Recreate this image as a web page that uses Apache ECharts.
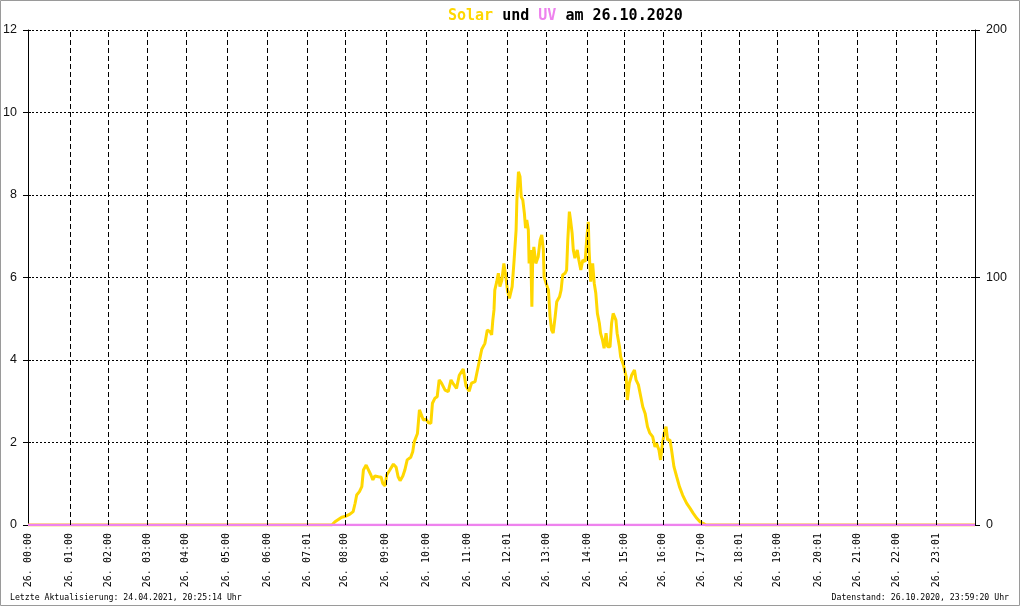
<!DOCTYPE html>
<html>
<head>
<meta charset="utf-8">
<script src="https://cdn.jsdelivr.net/npm/echarts@6/dist/echarts.min.js"></script>
<style>
html,body{margin:0;padding:0;background:#fff;}
#c{width:1020px;height:606px;}
</style>
</head>
<body>
<div id="c"></div>
<script>
// x positions (hours of day) of the labelled sample ticks and their labels
const tickPos = [0,1.06,2.03,3.02,4.00,5.04,6.06,7.07,8.03,9.07,10.09,11.13,12.14,13.13,14.17,15.11,16.09,17.06,18.02,18.98,20.02,21.01,22.00,23.01];
const tickLabels = ['26. 00:00','26. 01:00','26. 02:00','26. 03:00','26. 04:00','26. 05:00','26. 06:00','26. 07:01','26. 08:00','26. 09:00','26. 10:00','26. 11:00','26. 12:01','26. 13:00','26. 14:00','26. 15:00','26. 16:00','26. 17:00','26. 18:01','26. 19:00','26. 20:01','26. 21:00','26. 22:00','26. 23:01'];

// Solar radiation (W/m², right axis)
const solarHours = [0,7.70,7.78,7.82,7.95,8.03,8.16,8.24,8.29,8.33,8.40,8.46,8.50,8.57,8.62,8.69,8.74,8.79,8.88,8.95,8.99,9.05,9.09,9.17,9.26,9.33,9.38,9.43,9.50,9.55,9.61,9.70,9.75,9.79,9.87,9.92,9.96,10.02,10.09,10.15,10.21,10.25,10.31,10.37,10.42,10.48,10.57,10.65,10.72,10.78,10.86,10.93,11.03,11.10,11.18,11.24,11.33,11.50,11.58,11.64,11.71,11.75,11.78,11.81,11.83,11.88,11.92,11.96,12.01,12.06,12.11,12.15,12.20,12.23,12.27,12.32,12.37,12.39,12.43,12.47,12.50,12.54,12.58,12.61,12.64,12.68,12.70,12.74,12.77,12.79,12.82,12.87,12.93,12.98,13.02,13.06,13.08,13.13,13.19,13.23,13.27,13.31,13.36,13.40,13.47,13.51,13.55,13.61,13.65,13.68,13.72,13.75,13.79,13.82,13.86,13.92,13.96,14.01,14.06,14.12,14.16,14.20,14.22,14.26,14.31,14.35,14.39,14.43,14.48,14.51,14.56,14.60,14.65,14.69,14.75,14.79,14.83,14.90,14.93,14.99,15.02,15.09,15.16,15.19,15.24,15.30,15.37,15.41,15.47,15.53,15.58,15.64,15.70,15.76,15.83,15.89,15.93,15.99,16.03,16.08,16.13,16.17,16.21,16.27,16.31,16.37,16.44,16.51,16.59,16.69,16.78,16.86,16.95,17.03,17.11,17.18,24];
const solarValues = [0,0,1.3,2.0,3.1,3.4,4.4,5.4,8.8,12.1,13.5,15.5,22.2,24.2,23.6,20.2,18.2,19.8,19.5,19.3,16.8,15.8,20.2,22.2,24.6,23.3,19.5,17.9,19.8,22.2,26.3,27.4,29.6,33.7,37.0,46.5,46.7,42.4,42.7,41.3,41.1,49.2,51.2,51.8,58.6,57.3,54.5,53.9,58.6,57.0,55.2,60.5,63.0,56.2,54.0,57.3,57.9,71.0,73.4,78.8,78.1,76.8,82.8,86.9,94.9,98.3,101.7,96.3,99.0,105.7,100.3,94.9,91.6,90.9,96.3,107.1,119.2,131.3,142.7,140.7,132.6,131.3,125.9,119.9,123.2,119.2,105.7,111.1,88.2,107.1,112.4,105.7,108.4,115.2,117.2,111.1,100.3,97.7,94.9,84.2,78.8,77.5,84.2,90.2,92.2,94.9,101.0,101.7,103.0,115.2,126.6,123.2,117.9,111.1,107.8,111.1,107.1,103.0,107.1,106.4,115.8,122.5,111.1,98.3,105.7,97.7,93.6,85.5,81.5,77.5,74.7,71.4,77.5,72.0,72.0,81.5,85.5,82.8,77.5,72.0,68.0,64.6,59.9,50.5,57.3,60.6,62.6,58.6,56.6,51.8,47.8,45.1,39.7,37.1,35.7,31.6,33.0,30.3,26.3,33.0,37.7,39.7,34.3,34.3,30.3,23.6,19.5,15.5,12.1,8.8,6.7,4.7,2.7,1.3,0.7,0,0];

// UV index (left axis)
const uvHours = [0,24];
const uvValues = [0,0];

const mono = 'DejaVu Sans Mono';
const sans = 'Liberation Sans';
const chart = echarts.init(document.getElementById('c'), null, {renderer:'canvas'});
chart.setOption({
  animation:false,
  backgroundColor:'#ffffff',
  title:{
    left:443, top:4,
    text:'{s|Solar} {n|und} {u|UV} {n|am 26.10.2020}',
    textStyle:{
      fontFamily:mono, fontSize:15, fontWeight:'bold',
      rich:{
        s:{color:'#FFD700',fontFamily:mono,fontSize:15,fontWeight:'bold'},
        u:{color:'#EE82EE',fontFamily:mono,fontSize:15,fontWeight:'bold'},
        n:{color:'#000000',fontFamily:mono,fontSize:15,fontWeight:'bold'}
      }
    }
  },
  grid:{left:28,right:45,top:30,bottom:81,containLabel:false},
  xAxis:{
    type:'value', min:0, max:24,
    axisLine:{show:true,lineStyle:{color:'#000',width:1}},
    axisTick:{show:false},
    splitLine:{show:false},
    axisLabel:{
      customValues:tickPos,
      rotate:90, margin:8,
      fontFamily:mono, fontSize:10, color:'#000',
      formatter:function(v){
        for(let i=0;i<tickPos.length;i++){ if(Math.abs(tickPos[i]-v)<1e-6) return tickLabels[i]; }
        return '';
      }
    }
  },
  yAxis:[
    {
      type:'value', min:0, max:12, interval:2, position:'left',
      axisLine:{show:true,lineStyle:{color:'#000',width:1}},
      axisTick:{show:true,length:5,lineStyle:{color:'#000'}},
      axisLabel:{margin:11,fontFamily:sans,fontSize:12.5,color:'#111'},
      splitLine:{show:true,lineStyle:{color:'#000',width:1,type:[2,2]}}
    },
    {
      type:'value', min:0, max:200, interval:100, position:'right',
      axisLine:{show:true,lineStyle:{color:'#000',width:1}},
      axisTick:{show:true,length:5,lineStyle:{color:'#000'}},
      axisLabel:{margin:11,fontFamily:sans,fontSize:12.5,color:'#111'},
      splitLine:{show:false}
    },
    {
      type:'value', min:0, max:12, interval:2, position:'left',
      axisLine:{show:false}, axisLabel:{show:false}, splitLine:{show:false},
      axisTick:{show:true,inside:true,length:3,lineStyle:{color:'#000'}}
    },
    {
      type:'value', min:0, max:200, interval:100, position:'right',
      axisLine:{show:false}, axisLabel:{show:false}, splitLine:{show:false},
      axisTick:{show:true,inside:true,length:4,lineStyle:{color:'#000'}}
    }
  ],
  series:[
    {
      name:'grid', type:'line', yAxisIndex:0, data:[[0,0]], showSymbol:false, silent:true,
      lineStyle:{opacity:0},
      markLine:{
        silent:true, symbol:['none','none'], label:{show:false},
        lineStyle:{color:'#000',width:1,type:[5,3]},
        data:tickPos.slice(1).map(function(p){return {xAxis:p};})
      }
    },
    {
      name:'Solar', type:'line', yAxisIndex:1, showSymbol:false, smooth:false,
      lineStyle:{color:'#FFD700',width:3}, itemStyle:{color:'#FFD700'},
      data:solarHours.map(function(h,i){return [h,solarValues[i]];})
    },
    {
      name:'UV', type:'line', yAxisIndex:0, showSymbol:false,
      lineStyle:{color:'#EE82EE',width:2.5}, itemStyle:{color:'#EE82EE'},
      data:uvHours.map(function(h,i){return [h,uvValues[i]];})
    }
  ],
  graphic:[
    {type:'rect',shape:{x:0.5,y:0.5,width:1019,height:605},style:{fill:'none',stroke:'#9a9a9a',lineWidth:1},silent:true},
    {type:'text',left:10,top:594,style:{text:'Letzte Aktualisierung: 24.04.2021, 20:25:14 Uhr',fontFamily:mono,fontSize:8.2,fill:'#000'}},
    {type:'text',right:11,top:594,style:{text:'Datenstand: 26.10.2020, 23:59:20 Uhr',fontFamily:mono,fontSize:8.2,fill:'#000'}}
  ]
});
</script>
</body>
</html>
